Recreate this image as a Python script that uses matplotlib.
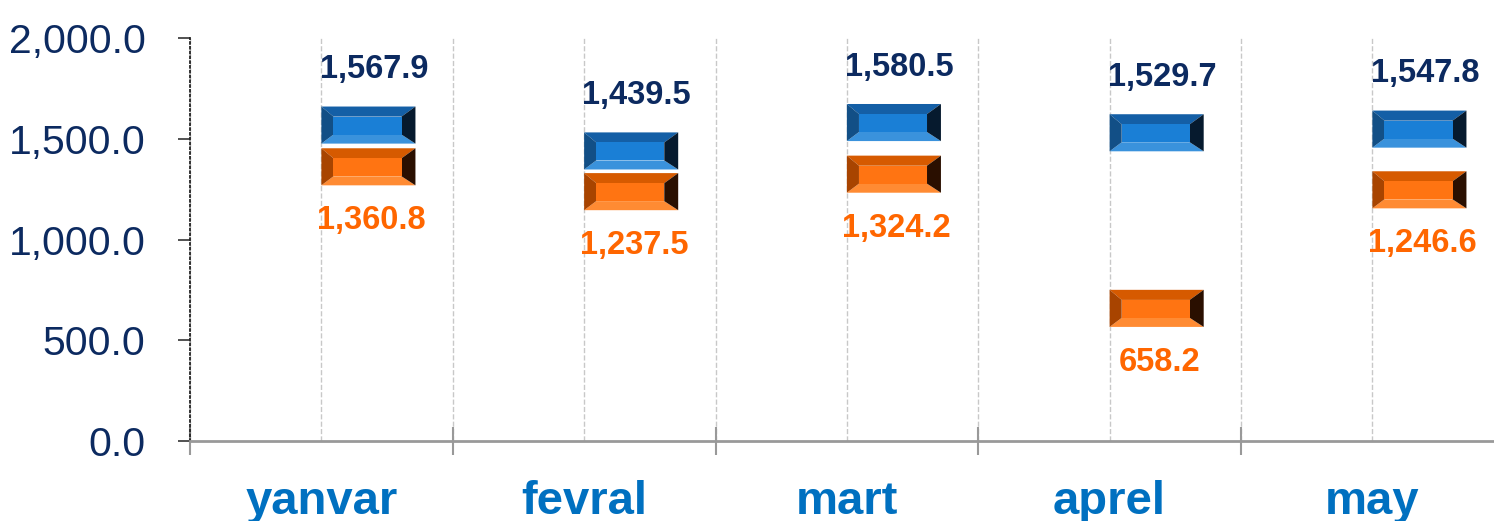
import matplotlib.pyplot as plt
from matplotlib.patches import Polygon
from matplotlib.ticker import FixedLocator, FuncFormatter

plt.rcParams['font.family'] = ['Liberation Sans', 'DejaVu Sans']

months = ['yanvar', 'fevral', 'mart', 'aprel', 'may']
blue_vals = [1567.9, 1439.5, 1580.5, 1529.7, 1547.8]
orange_vals = [1360.8, 1237.5, 1324.2, 658.2, 1246.6]

# colours for the bevelled markers: face, top, bottom, left, right
blue_shades = ['#1a7fd6', '#145fa6', '#3a92dc', '#124f86', '#061a2e']
orange_shades = ['#ff7412', '#d65a00', '#ff8b33', '#a84400', '#2a0f00']


def bevel_box(ax, x0, yc, shades, w=0.358, h=184, il=0.046, ir=0.053, it=50, ib=45):
    x1 = x0 + w
    y0, y1 = yc - h / 2, yc + h / 2
    xi0, xi1 = x0 + il, x1 - ir
    yi0, yi1 = y0 + ib, y1 - it
    face, top, bot, left, right = shades
    ax.add_patch(Polygon([(x0, y1), (x1, y1), (xi1, yi1), (xi0, yi1)], closed=True, fc=top, ec='none', zorder=3))
    ax.add_patch(Polygon([(x0, y0), (x1, y0), (xi1, yi0), (xi0, yi0)], closed=True, fc=bot, ec='none', zorder=3))
    ax.add_patch(Polygon([(x0, y0), (x0, y1), (xi0, yi1), (xi0, yi0)], closed=True, fc=left, ec='none', zorder=3))
    ax.add_patch(Polygon([(x1, y0), (x1, y1), (xi1, yi1), (xi1, yi0)], closed=True, fc=right, ec='none', zorder=3))
    ax.add_patch(Polygon([(xi0, yi0), (xi1, yi0), (xi1, yi1), (xi0, yi1)], closed=True, fc=face, ec='none', zorder=3))


fig = plt.figure(figsize=(14.94, 5.21), dpi=100)
ax = fig.add_axes([190 / 1494, 80 / 521, 1304 / 1494, 403 / 521])

ax.set_xlim(-0.5, -0.5 + 1304 / 262.75)
ax.set_ylim(0, 2000)

for i in range(len(months)):
    bevel_box(ax, i, blue_vals[i], blue_shades)
    bevel_box(ax, i, orange_vals[i], orange_shades)
    ax.text(i + 0.2, blue_vals[i] + 275, f'{blue_vals[i]:,.1f}', ha='center', va='center',
            fontsize=23.5, fontweight='bold', color='#0c2a60', zorder=4)
    ax.text(i + 0.19, orange_vals[i] - 268, f'{orange_vals[i]:,.1f}', ha='center', va='center',
            fontsize=23.5, fontweight='bold', color='#ff6600', zorder=4)

# category boundaries as major ticks, names on minor ticks at centres
ax.xaxis.set_major_locator(FixedLocator([-0.5, 0.5, 1.5, 2.5, 3.5]))
ax.xaxis.set_minor_locator(FixedLocator(range(len(months))))
ax.set_xticklabels([])
ax.set_xticklabels(months, minor=True)
ax.tick_params(axis='x', which='major', direction='inout', length=20, width=1.5, color='#999999')
ax.tick_params(axis='x', which='minor', length=0, pad=28, labelsize=34, labelcolor='#0070c0')
for lab in ax.get_xticklabels(minor=True):
    lab.set_fontweight('bold')
ax.grid(True, axis='x', which='both', color='#c8c8c8', linestyle='--', linewidth=1)

ax.yaxis.set_major_locator(FixedLocator([0, 500, 1000, 1500, 2000]))
ax.yaxis.set_major_formatter(FuncFormatter(lambda v, p: f'{v:,.1f}'))
ax.tick_params(axis='y', length=9, width=1.2, color='#333333', labelsize=29.5, labelcolor='#0c2a60', pad=23)
for t in ax.yaxis.get_ticklines():
    t.set_linestyle(':')

ax.spines['top'].set_visible(False)
ax.spines['right'].set_visible(False)
ax.spines['left'].set_linestyle(':')
ax.spines['left'].set_linewidth(1.3)
ax.spines['left'].set_color('#222222')
ax.spines['bottom'].set_color('#999999')
ax.spines['bottom'].set_linewidth(2)
ax.set_axisbelow(True)

fig.savefig('out.png', dpi=100)
